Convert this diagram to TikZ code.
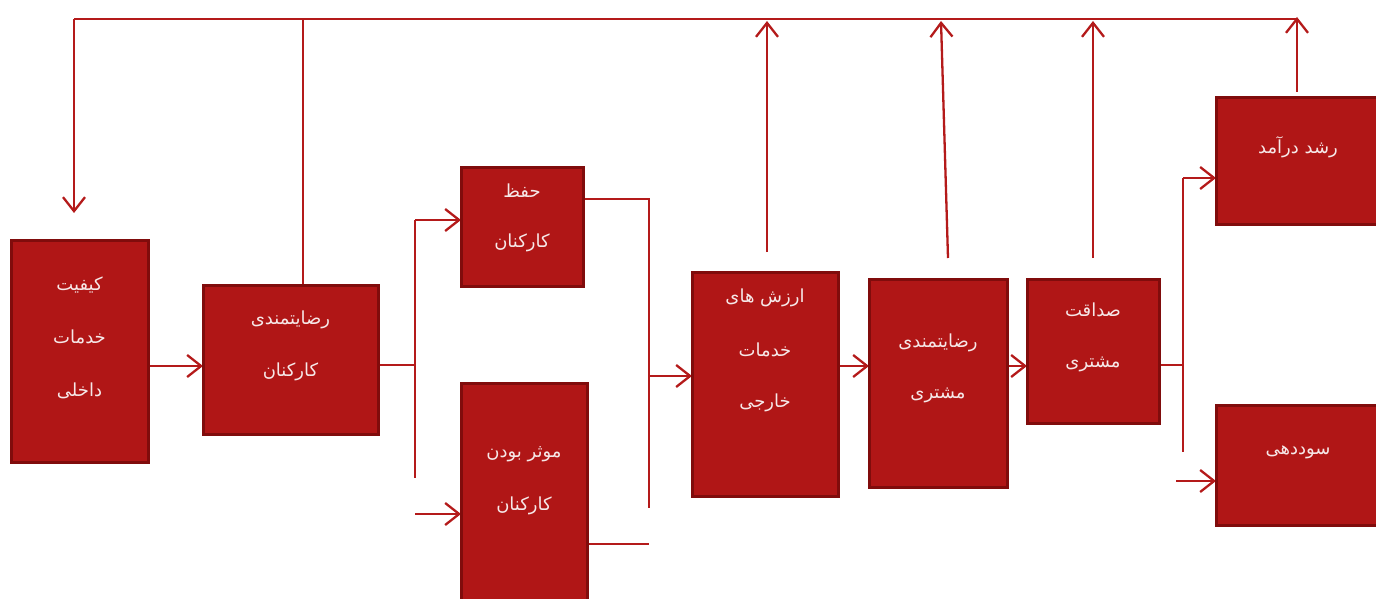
\documentclass[tikz,border=0pt]{standalone}
\usepackage{fontspec}
\newfontfamily\arabicfont[Script=Arabic]{DejaVu Sans}
\TeXXeTstate=1
\usetikzlibrary{arrows.meta}
\definecolor{boxfill}{HTML}{B01616}
\definecolor{boxedge}{HTML}{800C0C}
\definecolor{linec}{HTML}{B41A1A}
\definecolor{txt}{HTML}{F6E8E8}
\tikzset{
 box/.style={draw=none, fill=none, inner sep=0pt, outer sep=0pt, anchor=north west},
 boxdraw/.style={draw=boxedge, fill=boxfill, line width=3pt},
 lbl/.style={text=txt, font=\arabicfont\fontsize{18}{21}\selectfont, inner sep=0pt},
 conn/.style={draw=linec, line width=2.3pt},
 arr/.style={conn, -{Straight Barb[length=14pt,width=22pt,line width=2.3pt]}}
}
\newcommand\rtl[1]{\beginR #1\endR}
\begin{document}
\begin{tikzpicture}[x=1pt,y=-1pt]
\useasboundingbox (0,0) rectangle (1376,599);
\clip (0,0) rectangle (1376,599);
% junction coordinates
\coordinate (tl) at (74,19);
\coordinate (tr) at (1297,19);
\coordinate (fb) at (74,213);
\coordinate (j1) at (415,365);
\coordinate (j1t) at (415,220);
\coordinate (j1b) at (415,478);
\coordinate (j1s) at (415,514);
\coordinate (j2t) at (649,199);
\coordinate (j2b) at (649,508);
\coordinate (j2m) at (649,376);
\coordinate (j2e) at (649,544);
\coordinate (j3) at (1183,365);
\coordinate (j3t) at (1183,178);
\coordinate (j3b) at (1183,452);
\coordinate (j3s) at (1176,481);
\coordinate (u1a) at (767,252); \coordinate (u1b) at (767,21);
\coordinate (u2a) at (948,258); \coordinate (u2b) at (941,21);
\coordinate (u3a) at (1093,258); \coordinate (u3b) at (1093,21);
\coordinate (u4a) at (1297,92); \coordinate (u4b) at (1297,17);
\coordinate (v2) at (303,19);

% box geometry
\path
 (11,240) node[box, minimum width=137pt, minimum height=222pt] (b1) {}
 (203,285) node[box, minimum width=175pt, minimum height=149pt] (b2) {}
 (461,167) node[box, minimum width=122pt, minimum height=119pt] (b3) {}
 (461,383) node[box, minimum width=126pt, minimum height=240pt] (b4) {}
 (692,272) node[box, minimum width=146pt, minimum height=224pt] (b5) {}
 (869,279) node[box, minimum width=138pt, minimum height=208pt] (b6) {}
 (1027,279) node[box, minimum width=132pt, minimum height=144pt] (b7) {}
 (1216,98) node[box, minimum width=170pt, minimum height=126pt] (b8) {}
 (1216,405) node[box, minimum width=170pt, minimum height=120pt] (b9) {};

% connectors
\draw[conn] (tl) -- (tr);
\draw[arr] (tl) -- (fb);
\draw[conn] (303,0 |- b2.north) -- (v2);
\draw[arr] (u1a) -- (u1b);
\draw[arr] (u2a) -- (u2b);
\draw[arr] (u3a) -- (u3b);
\draw[arr] (u4a) -- (u4b);
\draw[arr] (b1.east |- 0,366) -- (b2.west |- 0,366);
\draw[conn] (b2.east |- j1) -- (j1);
\draw[conn] (j1t) -- (j1b);
\draw[arr] (j1t) -- (b3.west |- j1t);
\draw[arr] (j1s) -- (b4.west |- j1s);
\draw[conn] (b3.east |- j2t) -- (j2t) -- (j2b);
\draw[conn] (b4.east |- j2e) -- (j2e);
\draw[arr] (j2m) -- (b5.west |- j2m);
\draw[arr] (b5.east |- 0,366) -- (b6.west |- 0,366);
\draw[arr] (b6.east |- 0,366) -- (b7.west |- 0,366);
\draw[conn] (b7.east |- j3) -- (j3);
\draw[conn] (j3t) -- (j3b);
\draw[arr] (j3t) -- (b8.west |- j3t);
\draw[arr] (j3s) -- (b9.west |- j3s);

% visible boxes
\foreach \n in {b1,b2,b3,b4,b5,b6,b7,b8,b9}{
 \draw[boxdraw] (\n.north west) rectangle (\n.south east);
}

% texts
\node[lbl] (t1a) at (79.5,285) {\rtl{کیفیت}};
\node[lbl] (t1b) at (79.5,337) {\rtl{خدمات}};
\node[lbl] (t1c) at (79.5,391) {\rtl{داخلی}};
\node[lbl] (t2a) at (290.5,320) {\rtl{رضایتمندی}};
\node[lbl] (t2b) at (290.5,372) {\rtl{کارکنان}};
\node[lbl] (t3a) at (522,191) {\rtl{حفظ}};
\node[lbl] (t3b) at (522,243) {\rtl{کارکنان}};
\node[lbl] (t4a) at (524,454) {\rtl{موثر بودن}};
\node[lbl] (t4b) at (524,506) {\rtl{کارکنان}};
\node[lbl] (t5a) at (765,298) {\rtl{ارزش های}};
\node[lbl] (t5b) at (765,350) {\rtl{خدمات}};
\node[lbl] (t5c) at (765,403) {\rtl{خارجی}};
\node[lbl] (t6a) at (938,343) {\rtl{رضایتمندی}};
\node[lbl] (t6b) at (938,395) {\rtl{مشتری}};
\node[lbl] (t7a) at (1093,310) {\rtl{صداقت}};
\node[lbl] (t7b) at (1093,364) {\rtl{مشتری}};
\node[lbl] (t8) at (1298,147) {\rtl{رشد درآمد}};
\node[lbl] (t9) at (1298,452) {\rtl{سوددهی}};
\end{tikzpicture}
\end{document}
